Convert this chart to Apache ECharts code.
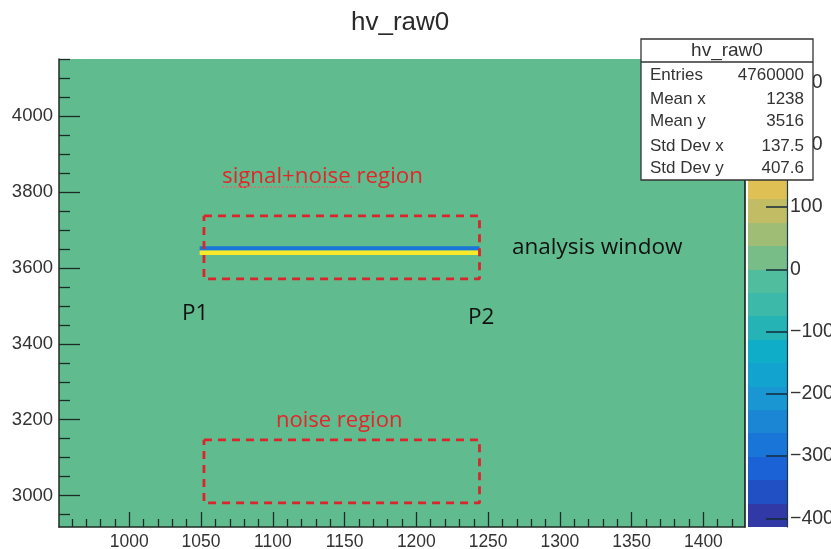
<!DOCTYPE html>
<html><head><meta charset="utf-8">
<style>html,body{margin:0;padding:0;background:#fff;overflow:hidden}#c{width:831px;height:549px}</style>
<script src="https://cdn.jsdelivr.net/npm/echarts@6/dist/echarts.min.js"></script>
</head><body><div id="c"></div>
<script>
const titleText = 'hv_raw0';
const xRange = [951, 1429];
const yRange = [2917.5, 4150];
const zRange = [-414, 338];
const xMajor = [1000,1050,1100,1150,1200,1250,1300,1350,1400];
const xMinor = [960,970,980,990,1010,1020,1030,1040,1060,1070,1080,1090,1110,1120,1130,1140,1160,1170,1180,1190,1210,1220,1230,1240,1260,1270,1280,1290,1310,1320,1330,1340,1360,1370,1380,1390,1410,1420];
const yMajor = [3000,3200,3400,3600,3800,4000];
const yMinor = [2950,3050,3100,3150,3250,3300,3350,3450,3500,3550,3650,3700,3750,3850,3900,3950,4050,4100,4150];
const zMajor = [-400,-300,-200,-100,0,100,200,300];
const zEdges = [-414,-376.4,-338.8,-301.2,-263.6,-226,-188.4,-150.8,-113.2,-75.6,-38,-0.4,37.2,74.8,112.4,150,187.6,225.2,262.8,300.4,338];
const zColors = ['#3139a6','#2050c4','#1b62d6','#1a75d8','#1b86d4','#1a96d2','#12a3cf','#10adc8','#25b3b6','#3cb9a8','#50bd9e','#78bd88','#a0bd76','#c2bc64','#dfc055','#eec448','#f4cc3c','#f7d634','#f8e02e','#f9e92a'];
const noiseLevel = '#60bc8f';
const signalBands = [[1049,1244,3646,3657,-280],[1049,1244,3634,3646,320]];
const signalBox = [[1052,3737],[1244,3737],[1244,3571],[1052,3571],[1052,3737]];
const noiseBox = [[1052,3147],[1244,3147],[1244,2981],[1052,2981],[1052,3147]];
const statsLabels = ['Entries','Mean x','Mean y','Std Dev x','Std Dev y'];
const statsValues = ['4760000','1238','3516','137.5','407.6'];

const axisDark = '#1c2b25';
const labelFont = {fontFamily:'Liberation Sans',color:'#333'};
function colorOf(v){
  for(let i=0;i<zColors.length;i++){ if(v<zEdges[i+1]) return zColors[i]; }
  return zColors[zColors.length-1];
}
const plain = v => String(v).replace('-','\u2212');
const blank = {axisLine:{show:false},axisTick:{show:false},axisLabel:{show:false},splitLine:{show:false}};
function rectItem(params,api){
  const a=api.coord([api.value(0),api.value(2)]), b=api.coord([api.value(1),api.value(3)]);
  return {type:'rect',shape:{x:a[0],y:b[1],width:b[0]-a[0],height:a[1]-b[1]},style:{fill:colorOf(api.value(4))}};
}
function binItem(params,api){
  const a=api.coord([0,api.value(0)]), b=api.coord([1,api.value(1)]);
  const top=Math.round(b[1]), bot=Math.round(a[1]);
  return {type:'rect',shape:{x:a[0],y:top,width:b[0]-a[0],height:bot-top},style:{fill:zColors[params.dataIndex]}};
}
const statsY=[75,99,121,146,168];
const annFont='"Open Sans"';
const graphics=[
  {type:'text',left:351,top:10,z:50,style:{text:titleText,font:'26px "Liberation Sans"',fill:'#2a2a2a'}},
  {type:'rect',z:50,shape:{x:641,y:39,width:172,height:141},style:{fill:'#fff',stroke:'#333',lineWidth:1.3}},
  {type:'line',z:51,shape:{x1:641,y1:62,x2:813,y2:62},style:{stroke:'#333',lineWidth:1.3}},
  {type:'text',z:51,x:727,y:51,style:{text:titleText,font:'19px "Liberation Sans"',fill:'#333',align:'center',verticalAlign:'middle'}},
  {type:'text',z:60,x:222,y:177,style:{text:'signal+noise region',font:'22.3px '+annFont,fill:'#e2262a',verticalAlign:'middle'}},
  {type:'line',z:60,shape:{x1:222,y1:187,x2:355,y2:187},style:{stroke:'#d9706e',lineWidth:1.5,lineDash:[2,2]}},
  {type:'text',z:60,x:276,y:421,style:{text:'noise region',font:'22px '+annFont,fill:'#e2262a',verticalAlign:'middle'}},
  {type:'text',z:60,x:512,y:248,style:{text:'analysis window',font:'22.5px '+annFont,fill:'#111',verticalAlign:'middle'}},
  {type:'text',z:60,x:182,y:314,style:{text:'P1',font:'22.5px '+annFont,fill:'#111',verticalAlign:'middle'}},
  {type:'text',z:60,x:468,y:318,style:{text:'P2',font:'22.5px '+annFont,fill:'#111',verticalAlign:'middle'}}
];
statsLabels.forEach((t,i)=>{
  graphics.push({type:'text',z:51,x:650,y:statsY[i],style:{text:t,font:'17px "Liberation Sans"',fill:'#333',verticalAlign:'middle'}});
  graphics.push({type:'text',z:51,x:804,y:statsY[i],style:{text:statsValues[i],font:'17px "Liberation Sans"',fill:'#333',align:'right',verticalAlign:'middle'}});
});
const boxStyle={type:[8,6],color:'#d8262c',width:2.8};
const option={
  animation:false,
  backgroundColor:'#fff',
  grid:[
    {left:59,top:59,width:686,height:468,show:true,backgroundColor:noiseLevel,borderWidth:0,outerBoundsMode:'none'},
    {left:748,top:59,width:39,height:468,show:false,outerBoundsMode:'none'}
  ],
  xAxis:[
    {type:'value',gridIndex:0,min:xRange[0],max:xRange[1],position:'bottom',z:10,splitLine:{show:false},
     axisLine:{show:true,onZero:false,lineStyle:{color:axisDark,width:1.5}},
     axisTick:{show:true,inside:true,length:15,customValues:xMajor,lineStyle:{color:axisDark,width:1.3}},
     axisLabel:{show:true,margin:6,fontSize:17.5,customValues:xMajor,formatter:plain,...labelFont}},
    {type:'value',gridIndex:0,min:xRange[0],max:xRange[1],position:'bottom',z:10,...blank,
     axisTick:{show:true,inside:true,length:8,customValues:xMinor,lineStyle:{color:axisDark,width:1.3}}},
    {type:'value',gridIndex:1,min:0,max:1,...blank}
  ],
  yAxis:[
    {type:'value',gridIndex:0,min:yRange[0],max:yRange[1],position:'left',z:10,splitLine:{show:false},
     axisLine:{show:true,onZero:false,lineStyle:{color:axisDark,width:1.5}},
     axisTick:{show:true,inside:true,length:21,customValues:yMajor,lineStyle:{color:axisDark,width:1.3}},
     axisLabel:{show:true,margin:6,fontSize:18.5,customValues:yMajor,formatter:plain,...labelFont}},
    {type:'value',gridIndex:0,min:yRange[0],max:yRange[1],position:'left',z:10,...blank,
     axisTick:{show:true,inside:true,length:11,customValues:yMinor,lineStyle:{color:axisDark,width:1.3}}},
    {type:'value',gridIndex:0,min:yRange[0],max:yRange[1],position:'right',z:10,...blank,
     axisLine:{show:true,onZero:false,lineStyle:{color:'#111',width:1.5}}},
    {type:'value',gridIndex:1,min:zRange[0],max:zRange[1],position:'right',z:10,splitLine:{show:false},
     axisLine:{show:true,onZero:false,lineStyle:{color:'#1c3a4a',width:1.2}},
     axisTick:{show:true,inside:true,length:21,customValues:zMajor,lineStyle:{color:'#142a3a',width:1.5}},
     axisLabel:{show:true,margin:3,fontSize:19.5,customValues:zMajor,hideOverlap:false,...labelFont,formatter:plain}}
  ],
  series:[
    {type:'custom',name:'signal',xAxisIndex:0,yAxisIndex:0,clip:true,renderItem:rectItem,data:signalBands,z:2},
    {type:'line',name:'signal+noise region',xAxisIndex:0,yAxisIndex:0,data:signalBox,symbol:'none',lineStyle:boxStyle,z:3},
    {type:'line',name:'noise region',xAxisIndex:0,yAxisIndex:0,data:noiseBox,symbol:'none',lineStyle:boxStyle,z:3},
    {type:'custom',name:'palette',xAxisIndex:2,yAxisIndex:3,renderItem:binItem,z:2,
     data:zColors.map((c,i)=>[zEdges[i],zEdges[i+1]])}
  ],
  graphic:graphics
};
const chart=echarts.init(document.getElementById('c'),null,{renderer:'canvas'});
chart.setOption(option);
</script></body></html>
